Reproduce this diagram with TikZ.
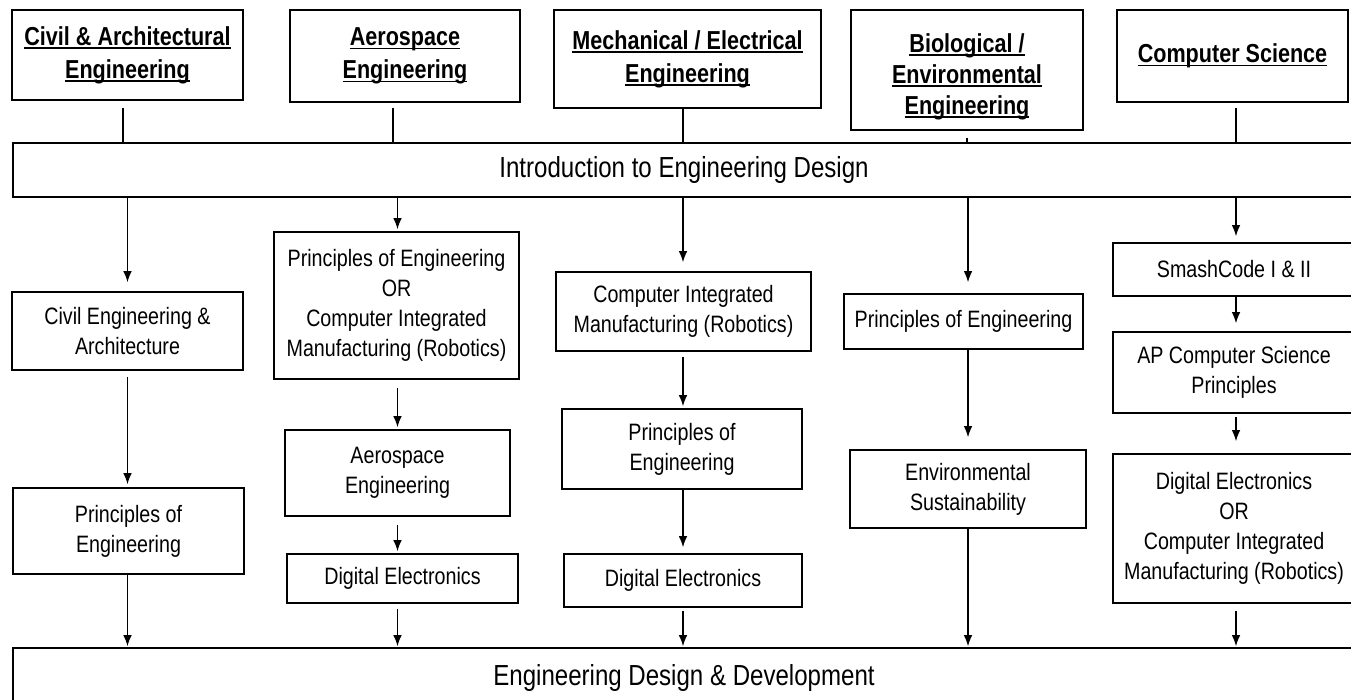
\documentclass[tikz,border=0pt]{standalone}
\usepackage{fontspec}
\setmainfont{Liberation Sans}[FakeStretch=0.83]
\usetikzlibrary{arrows.meta}
\newsavebox{\hdbox}
\newcommand{\hd}[1]{\sbox{\hdbox}{\textbf{#1}}\rlap{\rule[-3.5pt]{\wd\hdbox}{1.4pt}}\usebox{\hdbox}}

\begin{document}
\begin{tikzpicture}
  [
    x=1pt, y=-1pt,
    head/.style = {draw, shape=rectangle, line width=1.6pt, align=center, inner sep=0pt, font=\fontsize{26}{33}\selectfont},
    course/.style = {draw, shape=rectangle, line width=1.6pt, align=center, inner sep=0pt, font=\fontsize{23.7}{30}\selectfont},
    band/.style = {draw, shape=rectangle, line width=1.6pt, inner sep=0pt, font=\fontsize{29}{35}\selectfont},
    link/.style = {line width=1.2pt},
    flow/.style = {-{Latex[length=11pt,width=8.5pt]}, line width=1.2pt},
  ]

  \useasboundingbox (0,0) rectangle (1351,700);
  \clip (0,0) rectangle (1351,700);

  \node[head, minimum width=231, minimum height=90] (hcivil) at (127.5,55) {\hd{Civil \& Architectural}\\\hd{Engineering}};
  \node[head, minimum width=230, minimum height=92] (haero) at (405,56) {\hd{Aerospace}\\\hd{Engineering}};
  \node[head, minimum width=267, minimum height=98] (hmech) at (687.5,59) {\hd{Mechanical / Electrical}\\\hd{Engineering}};
  \node[head, minimum width=232, minimum height=120, font=\fontsize{26}{31}\selectfont] (hbio) at (967,70) {\rule{0pt}{32pt}\hd{Biological /}\\\hd{Environmental}\\\hd{Engineering}};
  \node[head, minimum width=231, minimum height=92] (hcs) at (1232.5,56) {\hd{Computer Science}};

  \node[band, minimum width=1342, minimum height=54] (intro) at (684,170) {Introduction to Engineering Design};
  \node[band, minimum width=1342, minimum height=60] (edd) at (684,678) {Engineering Design \& Development};

  \node[course, minimum width=231, minimum height=78] (c1) at (127.5,331) {Civil Engineering \&\\Architecture};
  \node[course, minimum width=231, minimum height=86] (c2) at (128.5,531) {Principles of\\Engineering};

  \node[course, minimum width=245, minimum height=147] (a1) at (396.5,305.5) {Principles of Engineering\\OR\\Computer Integrated\\Manufacturing (Robotics)};
  \node[course, minimum width=225, minimum height=86] (a2) at (397.5,473) {Aerospace\\Engineering};
  \node[course, minimum width=231, minimum height=49] (a3) at (402.5,578.5) {Digital Electronics};

  \node[course, minimum width=255, minimum height=79] (m1) at (683.5,311.5) {Computer Integrated\\Manufacturing (Robotics)};
  \node[course, minimum width=240, minimum height=80] (m2) at (682,449) {Principles of\\Engineering};
  \node[course, minimum width=238, minimum height=53] (m3) at (683,580.5) {Digital Electronics};

  \node[course, minimum width=239, minimum height=55] (e1) at (963.5,321.5) {Principles of Engineering};
  \node[course, minimum width=236, minimum height=78] (e2) at (968,489) {Environmental\\Sustainability};

  \node[course, minimum width=242, minimum height=53] (s1) at (1234,269.5) {SmashCode I \& II};
  \node[course, minimum width=242, minimum height=81] (s2) at (1234,372.5) {AP Computer Science\\Principles};
  \node[course, minimum width=242, minimum height=149] (s3) at (1234,528.5) {Digital Electronics\\OR\\Computer Integrated\\Manufacturing (Robotics)};

  \draw [link] ([xshift=-4.5pt,yshift=-7pt]hcivil.south) -- (intro.north -| 123,0);
  \draw [link] ([xshift=-12pt,yshift=-5pt]haero.south) -- (intro.north -| 393,0);
  \draw [link] ([xshift=-4.5pt]hmech.south) -- (intro.north -| 683,0);
  \draw [link] ([yshift=-7pt]hbio.south) -- (intro.north -| hbio.south);
  \draw [link] ([xshift=3.5pt,yshift=-5pt]hcs.south) -- (intro.north -| 1236,0);

  \draw [flow, shorten >=9pt] (intro.south -| c1.north) -- (c1.north);
  \draw [flow, shorten <=6pt, shorten >=3pt] (c1.south) -- (c2.north -| c1.south);
  \draw [flow, shorten >=1pt] (c2.south -| c1.south) -- (edd.north -| c1.south);

  \draw [flow, shorten >=2pt] (intro.south -| a2.north) -- (a1.north -| a2.north);
  \draw [flow, shorten <=8pt, shorten >=2pt] (a1.south -| a2.north) -- (a2.north);
  \draw [flow, shorten <=8pt, shorten >=2pt] (a2.south) -- (a3.north -| a2.south);
  \draw [flow, shorten <=5pt, shorten >=1pt] (a3.south -| a2.south) -- (edd.north -| a2.south);

  \draw [flow, shorten >=9pt] (intro.south -| m3.north) -- (m1.north -| m3.north);
  \draw [flow, shorten <=5pt, shorten >=2pt] (m1.south -| m3.north) -- (m2.north -| m3.north);
  \draw [flow, shorten >=6pt] (m2.south -| m3.north) -- (m3.north);
  \draw [flow, shorten <=3pt, shorten >=1pt] (m3.south) -- (edd.north -| m3.south);

  \draw [flow, shorten >=11pt] (intro.south -| e2.north) -- (e1.north -| e2.north);
  \draw [flow, shorten >=12pt] (e1.south -| e2.north) -- (e2.north);
  \draw [flow, shorten >=1pt] (e2.south) -- (edd.north -| e2.south);

  \draw [flow, shorten >=6pt] (intro.south -| 1236,0) -- (s1.north -| 1236,0);
  \draw [flow, shorten >=8pt] (s1.south -| 1236,0) -- (s2.north -| 1236,0);
  \draw [flow, shorten <=3pt, shorten >=12pt] (s2.south -| 1236,0) -- (s3.north -| 1236,0);
  \draw [flow, shorten <=7pt, shorten >=1pt] (s3.south -| 1236,0) -- (edd.north -| 1236,0);
\end{tikzpicture}
\end{document}
